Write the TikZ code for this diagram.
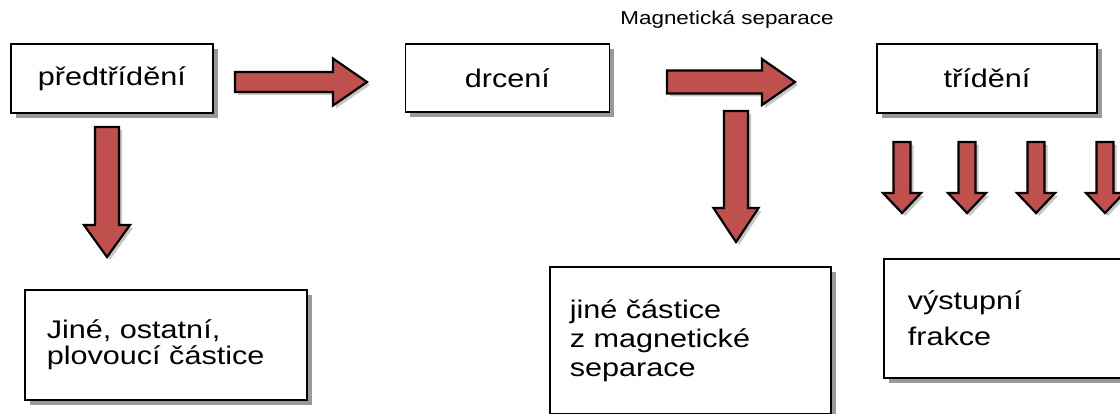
\documentclass[tikz,border=0pt]{standalone}
\usepackage{fontspec}
\setmainfont{Liberation Sans}[FakeStretch=1.2]
\usetikzlibrary{positioning, shadows}

\definecolor{arrowred}{RGB}{192,80,77}

\tikzset{
	box/.style={draw, line width=1.6pt, fill=white, inner sep=0pt,
		font=\fontsize{25.5}{26}\selectfont,
		drop shadow={shadow xshift=5pt, shadow yshift=-5pt, fill=gray!80, opacity=1}},
	textbox/.style={box, align=left, inner xsep=22pt},
	arrowbody/.style={fill=arrowred, draw=black, line width=2.2pt, line join=miter,
		drop shadow={shadow xshift=3pt, shadow yshift=-3pt, fill=gray!45, opacity=1}},
	pics/blockarrow/.style args={#1/#2/#3/#4}{code={
		\filldraw[arrowbody] (0,-#2) -- (#1-#4,-#2) -- (#1-#4,-#3) -- (#1,0)
			-- (#1-#4,#3) -- (#1-#4,#2) -- (0,#2) -- cycle;
	}}
}

\begin{document}
\begin{tikzpicture}[x=1pt, y=-1pt]

\useasboundingbox (0,0) rectangle (1120,414);

% upper row
 \node [box, anchor=north west, minimum width=202pt, minimum height=69pt] (pre) at (10,43) {předtřídění};
 \node [box, minimum width=204pt, minimum height=68pt] (drc) [right=191pt of pre] {drcení};
 \node [box, minimum width=220pt, minimum height=69pt] (tri) [right=266pt of drc] {třídění};

 \node [font=\fontsize{18.7}{20}\selectfont] (mag) at (727,20) {Magnetická separace};

% lower row
 \node [textbox, anchor=north west, text width=238pt, minimum height=110pt] (jine) at (24,289)
	{Jiné, ostatní,\\ plovoucí částice};
 \node [textbox, anchor=north west, inner xsep=20pt, text width=241pt, minimum height=147pt] (jmag) at (549,266)
	{jiné částice\\[3pt] z magnetické\\[3pt] separace};
 \node [textbox, anchor=north west, inner xsep=24pt, text width=192pt, minimum height=119pt] (vys) at (883,258)
	{výstupní\\[10pt] frakce};

% block arrows
 \pic (a1) at (235,82) {blockarrow=132/10/23.5/34};
 \pic (a2) at (667,82) {blockarrow=128/11.5/23/33};
 \pic [rotate=-90] (d1) at (107,127) {blockarrow=130/12/23/32};
 \pic [rotate=-90] (d2) at (736,111) {blockarrow=131/12/22.5/34};
 \foreach \x [count=\i] in {902, 967, 1036, 1105}
	\pic [rotate=-90] (f\i) at (\x,142) {blockarrow=71/8.5/19/20};

\end{tikzpicture}
\end{document}
